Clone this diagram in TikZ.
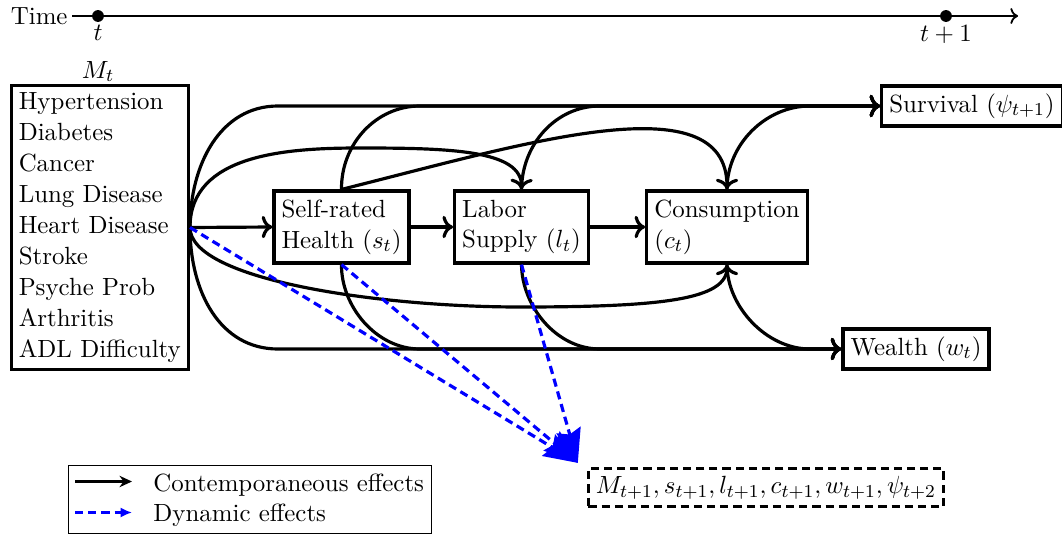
\documentclass[tikz,border=0pt]{standalone}
\usepackage{fontspec}
\usetikzlibrary{arrows.meta,calc}
\begin{document}
\begin{tikzpicture}[x=0.4401pt,y=-0.4401pt,
  font=\fontsize{10.95}{13.6}\selectfont,
  box/.style={draw, line width=1.4pt, align=left},
  sbox/.style={box, minimum height=31.7pt},
  link/.style={line width=1.4pt, ->},
  dyn/.style={line width=1.4pt, blue, dash pattern=on 3.6pt off 2.2pt, -{Stealth[length=15pt,width=11pt,inset=2pt]}},
  dot/.style={circle, fill=black, inner sep=0pt, minimum size=5.2pt},
  lbl/.style={inner sep=0pt}
]
\useasboundingbox (0,0) rectangle (1062,535);

% time axis
\node[lbl, anchor=east] (time) at (68,16) {Time};
\coordinate (ax0) at (72,16);
\coordinate (ax1) at (1018,16);
\draw[thick, ->] (ax0) -- (ax1);
\node[dot] (d0) at (98,16) {};
\node[dot] (d1) at (946,16) {};
\node[lbl, anchor=north] (tl0) at (98,25) {$t$};
\node[lbl, anchor=north] (tl1) at (946,25) {$t+1$};

% nodes
\node[lbl, anchor=base] (Mlab) at (98,78) {$M_t$};
\node[box, anchor=east] (M) at (190,227.5) {Hypertension\\Diabetes\\Cancer\\Lung Disease\\Heart Disease\\Stroke\\Psyche Prob\\Arthritis\\ADL Difficulty};
\node[sbox] (s) at (341.5,227) {Self-rated\\Health $(s_t)$};
\node[sbox] (l) at (521.5,227) {Labor\\Supply $(l_t)$};
\node[sbox] (c) at (727,227) {Consumption\\$(c_t)$};
\node[box] (psi) at (972,106) {Survival $(\psi_{t+1})$};
\node[box] (w) at (916,349) {Wealth $(w_t)$};
\node[draw, line width=1.4pt, dash pattern=on 3.6pt off 2.2pt] (fut) at (766,487.5) {$M_{t+1}, s_{t+1}, l_{t+1}, c_{t+1}, w_{t+1}, \psi_{t+2}$};
\coordinate (tip) at ($(fut.north west)+(-9,-4)$);

% straight contemporaneous effects
\draw[link] (M.east) -- (s.west);
\draw[link] (s.east) -- (l.west);
\draw[link] (l.east) -- (c.west);

% to survival
\draw[link] (M.east) .. controls (190,165) and (220,106) .. (278,106) -- (psi.west);
\draw[link] (s.north) .. controls (341,144) and (376,106) .. (420,106) -- (psi.west);
\draw[link] (l.north) .. controls (522,144) and (556,106) .. (600,106) -- (psi.west);
\draw[link] (c.north) .. controls (727,144) and (766,106) .. (810,106) -- (psi.west);

% to wealth
\draw[link] (M.east) .. controls (190,292) and (220,349) .. (278,349) -- (w.west);
\draw[link] (s.south) .. controls (341,306) and (376,349) .. (420,349) -- (w.west);
\draw[link] (l.south) .. controls (522,306) and (556,349) .. (600,349) -- (w.west);
\draw[link] (c.south) .. controls (727,306) and (766,349) .. (810,349) -- (w.west);

% long arcs
\draw[link] (M.east) .. controls (190,154) and (287,148) .. (360,148) .. controls (450,148) and (522,150) .. (l.north);
\draw[link] (s.north) .. controls (520,145) and (727,80) .. (c.north);
\draw[link] (M.east) .. controls (190,280) and (380,307) .. (520,307) .. controls (660,307) and (727,300) .. (c.south);

% dynamic effects
\draw[dyn] (M.east) -- (tip);
\draw[dyn] (s.south) -- (tip);
\draw[dyn] (l.south) -- (tip);

% legend
\node[draw, semithick, minimum width=160pt, minimum height=30pt] (leg) at (250,499.5) {};
\coordinate (la0) at (75,481.5);
\coordinate (la1) at (132,481.5);
\coordinate (lb0) at (75,512.5);
\coordinate (lb1) at (132,512.5);
\draw[line width=1pt, -{Stealth[length=5.5pt,width=5pt]}] (la0) -- (la1);
\draw[line width=1pt, blue, dash pattern=on 3.6pt off 2.2pt, -{Latex[length=5pt,width=4.5pt]}] (lb0) -- (lb1);
\node[lbl, anchor=base west] (lt1) at (153,491) {Contemporaneous effects};
\node[lbl, anchor=base west] (lt2) at (153,521.7) {Dynamic effects};
\end{tikzpicture}
\end{document}
